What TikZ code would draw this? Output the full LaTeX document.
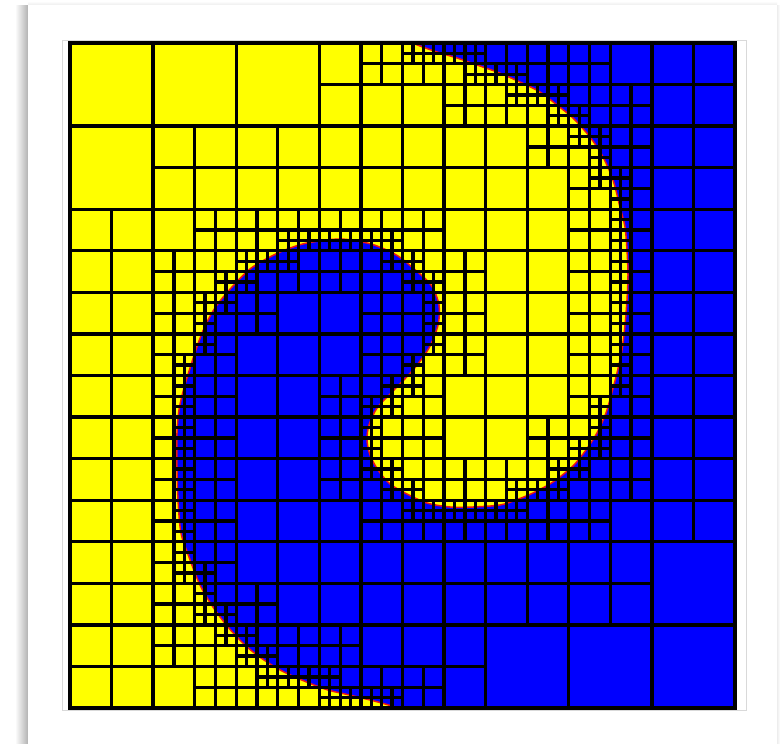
\documentclass[tikz,border=0pt]{standalone}

\definecolor{meshyellow}{RGB}{255,255,0}
\definecolor{meshblue}{RGB}{0,0,255}
\definecolor{meshred}{RGB}{235,20,20}

% counters for the refinement test
\newcount\qcx \newcount\qcy \newcount\qt
\newcount\qdx \newcount\qdy \newcount\qn \newcount\qk \newcount\qfirst
\newif\ifnear
\qfirst=1
\def\curvecoords{}
\def\qpoints{}

% one traced interface point (pixels) -> samples in mesh units (domain = 6400)
\def\tp#1#2{%
  \xdef\qbx{\the\numexpr(#1-70)*6400/665\relax}%
  \xdef\qby{\the\numexpr(#2-43)*6400/665\relax}%
  \xdef\curvecoords{\curvecoords(#1,#2)}%
  \ifnum\qfirst=0
    \global\qdx=\numexpr\qbx-\qax\relax
    \global\qdy=\numexpr\qby-\qay\relax
    \global\qn=\qdx \ifnum\qn<0 \global\qn=-\qn\fi
    \global\qk=\qdy \ifnum\qk<0 \global\qk=-\qk\fi
    \ifnum\qk>\qn \global\qn=\qk\fi
    \global\divide\qn by 30 \global\advance\qn by 1
    \global\qk=0
    \loop
      \global\advance\qk by 1
      \xdef\qpoints{\unexpanded\expandafter{\qpoints}%
        \noexpand\qp{\the\numexpr\qax+\qdx*\qk/\qn\relax}%
                    {\the\numexpr\qay+\qdy*\qk/\qn\relax}}%
    \ifnum\qk<\qn \repeat
  \else
    \xdef\qpoints{\noexpand\qp{\qbx}{\qby}}%
  \fi
  \global\qfirst=0
  \global\let\qax\qbx \global\let\qay\qby}

% interface, from the top edge to the bottom edge
\foreach \px/\py in {405/38, 415/44, 437/52, 457/58, 477/65, 497/72, 520/82,
  540/92, 557/105, 573/118, 590/137, 603/157, 613/180, 620/207, 625/227,
  627/250, 628/275, 627/300, 625/325, 622/350, 617/373, 612/392, 606/413,
  597/433, 586/450, 573/466, 553/482, 533/493, 516/500, 500/505, 473/507,
  450/507, 427/503, 407/494, 390/484, 378/470, 370/455, 367/440, 369/425,
  377/408, 393/391, 413/370, 429/348, 438/325, 439/305, 431/285, 413/268,
  398/256, 382/248, 367/243, 340/239, 307/243, 285/250, 268/258, 250/269,
  232/287, 217/305, 207/322, 199/341, 191/365, 184/388, 179/410, 177/433,
  177/467, 178/500, 181/533, 189/557, 200/585, 213/607, 228/627, 246/646,
  264/660, 284/672, 309/683, 328/690, 345/694, 362/698, 378/702, 392/706,
  402/709, 412/713}{\tp{\px}{\py}}

% is a sample inside the box round the cell centre?
\def\qptest#1#2{%
  \ifnum\numexpr#1-\qcx\relax<\qt
   \ifnum\numexpr\qcx-#1\relax<\qt
    \ifnum\numexpr#2-\qcy\relax<\qt
     \ifnum\numexpr\qcy-#2\relax<\qt
      \neartrue \let\qp\qpskip
  \fi\fi\fi\fi}
\def\qpskip#1#2{}

% quadtree cell: corner x, corner y, level
\def\quadcell#1#2#3{%
  \edef\qsize{\ifcase#3 6400\or3200\or1600\or800\or400\or200\or100\fi}%
  \ifnum#3<3 \neartrue
  \else\ifnum#3>5 \nearfalse
  \else
    \qcx=\numexpr#1+\qsize/2\relax
    \qcy=\numexpr#2+\qsize/2\relax
    \qt=\ifcase#3 0\or0\or0\or1000\or400\or100\fi\relax
    \nearfalse \let\qp\qptest \qpoints
  \fi\fi
  \ifnear
    \edef\qnext{\noexpand\quadsplit{#1}{#2}{\the\numexpr#3+1}{\the\numexpr\qsize/2}}%
  \else
    \edef\qnext{\noexpand\quadleaf{#1}{#2}{\qsize}}%
  \fi
  \qnext}

\def\quadsplit#1#2#3#4{%
  \edef\qnext{%
    \noexpand\quadcell{#1}{#2}{#3}%
    \noexpand\quadcell{\the\numexpr#1+#4}{#2}{#3}%
    \noexpand\quadcell{#1}{\the\numexpr#2+#4}{#3}%
    \noexpand\quadcell{\the\numexpr#1+#4}{\the\numexpr#2+#4}{#3}}%
  \qnext}

\def\quadleaf#1#2#3{\draw[meshcell] (#1,#2) rectangle ++(#3,#3);}

% the two phases and the interface between them
\def\drawphases#1{%
  \begin{scope}
    \clip (70,43) rectangle (735,708);
    \fill[phaseyellow] (70,43) rectangle (735,708);
    \fill[phaseblue] plot[smooth] coordinates {#1} -- (760,722) -- (760,20) -- cycle;
    \draw[interface] plot[smooth] coordinates {#1};
  \end{scope}}

\begin{document}
\begin{tikzpicture}[x=1pt, y=-1pt,
    meshcell/.style={draw=black, line width=3.3pt},
    phaseyellow/.style={fill=meshyellow},
    phaseblue/.style={fill=meshblue},
    interface/.style={draw=meshred, line width=1.5pt}
]
\useasboundingbox (0,0) rectangle (780,744);
\fill[white] (0,0) rectangle (780,744);

% card and its shadow
\shade[left color=white, right color=black!30] (15,5) rectangle (28,744);
\shade[top color=white, bottom color=black!7] (28,1) rectangle (777,5);
\shade[left color=black!7, right color=white] (777,5) rectangle (780,744);
\fill[white] (28,5) rectangle (777,744);
\draw[black!15, line width=1pt] (62,40) rectangle (746,710.5);

% phases
\expandafter\drawphases\expandafter{\curvecoords}

% adaptive mesh
\begin{scope}[shift={(70,43)}, x=0.10390625pt, y=-0.10390625pt]
  \quadcell{0}{0}{0}
\end{scope}

\end{tikzpicture}
\end{document}
